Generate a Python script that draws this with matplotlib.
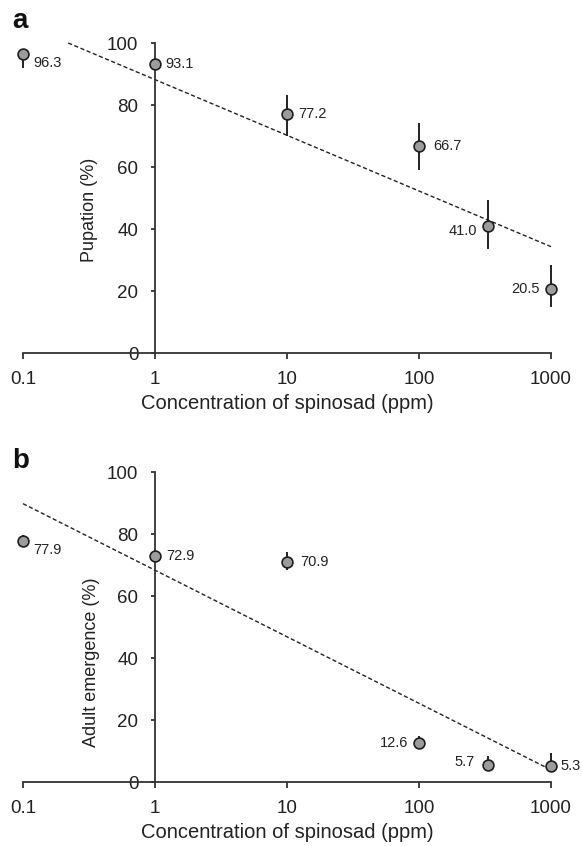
import matplotlib
matplotlib.use('Agg')
import matplotlib.pyplot as plt
import numpy as np

plt.rcParams['font.family'] = ['Liberation Sans', 'DejaVu Sans']

# 数据
conc = [0.1, 1, 10, 100, 333, 1000]
xticks = [0.1, 1, 10, 100, 1000]
xtick_labels = ['0.1', '1', '10', '100', '1000']
yticks = [0, 20, 40, 60, 80, 100]

pupation = [96.3, 93.1, 77.2, 66.7, 41.0, 20.5]
pupation_err_lo = [4.4, 1.0, 7.2, 7.6, 7.3, 5.8]
pupation_err_hi = [0.0, 1.0, 6.0, 7.6, 8.5, 7.8]
pupation_labels = ['96.3', '93.1', '77.2', '66.7', '41.0', '20.5']
pupation_trend_x = [0.22, 1000]
pupation_trend_y = [100.0, 34.3]

emergence = [77.9, 72.9, 70.9, 12.6, 5.7, 5.3]
emergence_err_lo = [1.8, 1.0, 2.5, 0.0, 0.0, 0.0]
emergence_err_hi = [1.9, 1.0, 3.3, 2.4, 2.9, 4.2]
emergence_labels = ['77.9', '72.9', '70.9', '12.6', '5.7', '5.3']
emergence_trend_x = [0.1, 1000]
emergence_trend_y = [89.8, 4.0]

# 标签偏移（像素）
offs_a = [(10, -9, 'left'), (10, 0, 'left'), (11, 0, 'left'), (14, 0, 'left'),
          (-11, -5, 'right'), (-11, 0, 'right')]
offs_b = [(10, -9, 'left'), (11, 0, 'left'), (13, 0, 'left'), (-11, 0, 'right'),
          (-13, 3, 'right'), (9, 0, 'left')]

W, H = 582, 846
fig = plt.figure(figsize=(W / 100, H / 100), dpi=100)

left = 23 / W
width = (551 - 23) / W
ax_a = fig.add_axes([left, 1 - 353 / H, width, 310 / H])
ax_b = fig.add_axes([left, 1 - 782.3 / H, width, 310.3 / H])

spine_col = '#333333'
text_col = '#222222'


def draw(ax, y, lo, hi, labels, offs, tx, ty, ylabel, ylab_pos):
    ax.set_xscale('log')
    ax.set_xlim(0.1, 1000)
    ax.set_ylim(0, 100)
    ax.plot(tx, ty, color='#222222', lw=1.0, linestyle=(0, (3, 1.8)), zorder=2, clip_on=False)
    ax.errorbar(conc, y, yerr=[lo, hi], fmt='none', ecolor='#222222', elinewidth=1.4,
                capsize=0, zorder=3, clip_on=False)
    ax.plot(conc, y, 'o', ms=7.8, mfc='#9c9c9c', mec='#1e1e1e', mew=1.2, zorder=4, clip_on=False)
    for xi, yi, lab, (dx, dy, ha) in zip(conc, y, labels, offs):
        ax.annotate(lab, (xi, yi), xytext=(dx * 0.72, dy * 0.72), textcoords='offset points',
                    ha=ha, va='center', fontsize=10.5, color=text_col)

    for s in ['top', 'right']:
        ax.spines[s].set_visible(False)
    ax.spines['left'].set_position(('data', 1))
    ax.spines['left'].set_color(spine_col)
    ax.spines['bottom'].set_color(spine_col)
    ax.spines['left'].set_linewidth(1.3)
    ax.spines['bottom'].set_linewidth(1.3)

    ax.set_xticks(xticks)
    ax.set_xticklabels(xtick_labels)
    ax.minorticks_off()
    ax.set_yticks(yticks)
    ax.tick_params(axis='x', direction='out', length=4, width=1.3, color=spine_col,
                   labelsize=13.5, labelcolor=text_col, pad=9)
    ax.tick_params(axis='y', direction='out', length=3, width=1.3, color=spine_col,
                   labelsize=13.5, labelcolor=text_col, pad=9)
    ax.patch.set_visible(False)

    ax.text(ylab_pos[0], ylab_pos[1], ylabel, transform=ax.transAxes, rotation=90,
            ha='center', va='center', fontsize=13, color=text_col)
    ax.set_xlabel('Concentration of spinosad (ppm)', fontsize=14.5, color=text_col, labelpad=4)


draw(ax_a, pupation, pupation_err_lo, pupation_err_hi, pupation_labels, offs_a,
     pupation_trend_x, pupation_trend_y, 'Pupation (%)', (0.125, 0.461))
draw(ax_b, emergence, emergence_err_lo, emergence_err_hi, emergence_labels, offs_b,
     emergence_trend_x, emergence_trend_y, 'Adult emergence (%)', (0.13, 0.388))

fig.text(12 / W, 1 - 28 / H, 'a', fontsize=20, fontweight='bold', va='baseline', color='#111111')
fig.text(12 / W, 1 - 468 / H, 'b', fontsize=20, fontweight='bold', va='baseline', color='#111111')

fig.savefig('out.png', dpi=100)
